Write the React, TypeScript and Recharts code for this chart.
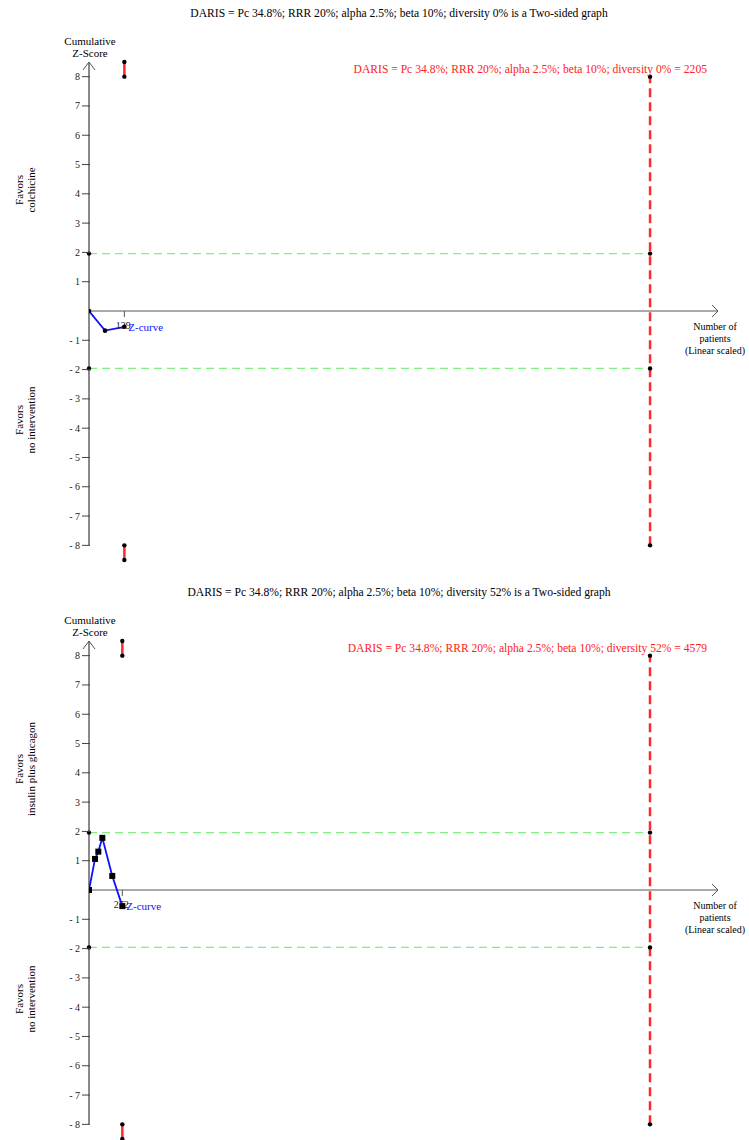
import React from "react";
import {
  ComposedChart,
  Line,
  XAxis,
  YAxis,
  ReferenceLine,
  ReferenceDot,
} from "recharts";

// ---------- data ----------
const topTitle =
  "DARIS = Pc 34.8%; RRR 20%; alpha 2.5%; beta 10%; diversity 0% is a Two-sided graph";
const topRisLabel =
  "DARIS = Pc 34.8%; RRR 20%; alpha 2.5%; beta 10%; diversity 0% = 2205";
const topRIS = 2205;
const topXMax = 2472;
const topPatients = [0, 63, 139];
const topZ = [0, -0.67, -0.54];
const topTick = 139;
const topFavorsUpper = ["Favors", "colchicine"];

const bottomTitle =
  "DARIS = Pc 34.8%; RRR 20%; alpha 2.5%; beta 10%; diversity 52% is a Two-sided graph";
const bottomRisLabel =
  "DARIS = Pc 34.8%; RRR 20%; alpha 2.5%; beta 10%; diversity 52% = 4579";
const bottomRIS = 4579;
const bottomXMax = 5134;
const bottomPatients = [0, 49, 76, 109, 190, 272];
const bottomZ = [0, 1.06, 1.31, 1.78, 0.48, -0.55];
const bottomTick = 272;
const bottomFavorsUpper = ["Favors", "insulin plus glucagon"];

const favorsLower = ["Favors", "no intervention"];
const yTicks = [-8, -7, -6, -5, -4, -3, -2, -1, 1, 2, 3, 4, 5, 6, 7, 8];
const boundaryZ = 1.96;
const axisTopZ = 8.5;
const axisBottomZ = -8;
const futilityZ = 8;
const extremeZ = 8.5;

const SERIF = "'Liberation Serif', 'Times New Roman', serif";
const W = 749;
const H = 579;
const Y_AXIS_W = 40;

type PanelProps = {
  title: string;
  risLabel: string;
  ris: number;
  xMax: number;
  patients: number[];
  zs: number[];
  tick: number;
  favorsUpper: string[];
  square: boolean;
  top: number;
};

const Dot = (props: any) => (
  <circle cx={props.cx} cy={props.cy} r={2.2} fill="#000" />
);

const YTick = (props: any) => {
  const { x, y, payload } = props;
  return (
    <g>
      <line x1={x + 1} y1={y} x2={x + 9} y2={y} stroke="#444" strokeWidth={1} />
      <text
        x={x - 1}
        y={y + 3.5}
        textAnchor="end"
        fontSize={10}
        fontFamily={SERIF}
        fill="#222"
      >
        {payload.value < 0 ? `- ${Math.abs(payload.value)}` : String(payload.value)}
      </text>
    </g>
  );
};

function Panel(p: PanelProps) {
  const data = p.patients.map((x, i) => ({ x, z: p.zs[i] }));
  const lineDot = p.square
    ? (d: any) => (
        <rect
          key={`sq-${d.index}`}
          x={d.cx - 3}
          y={d.cy - 3}
          width={6}
          height={6}
          fill="#000"
        />
      )
    : (d: any) => (
        <circle key={`c-${d.index}`} cx={d.cx} cy={d.cy} r={2.3} fill="#000" />
      );
  const last = data[data.length - 1];
  const labelStyle: React.CSSProperties = {
    position: "absolute",
    fontFamily: SERIF,
    fontSize: 10,
    color: "#000",
    textAlign: "center",
    lineHeight: "12px",
    whiteSpace: "nowrap",
  };
  return (
    <div style={{ position: "absolute", left: 0, top: p.top, width: W, height: H }}>
      <ComposedChart
        width={W}
        height={H}
        data={data}
        margin={{ top: 62, right: 31, bottom: 19, left: 89 - Y_AXIS_W }}
      >
        <XAxis
          type="number"
          dataKey="x"
          domain={[0, p.xMax]}
          hide
          height={0}
          allowDataOverflow
        />
        <YAxis
          type="number"
          domain={[-8.5, 8.5]}
          ticks={yTicks}
          interval={0}
          width={Y_AXIS_W}
          axisLine={false}
          tickLine={false}
          tickSize={8}
          tickMargin={0}
          tick={<YTick />}
          allowDataOverflow
        />
        {/* boundaries */}
        <ReferenceLine
          segment={[
            { x: 0, y: boundaryZ },
            { x: p.ris, y: boundaryZ },
          ]}
          stroke="#80f080"
          strokeWidth={1.2}
          strokeDasharray="8 5"
        />
        <ReferenceLine
          segment={[
            { x: 0, y: -boundaryZ },
            { x: p.ris, y: -boundaryZ },
          ]}
          stroke="#80f080"
          strokeWidth={1.2}
          strokeDasharray="8 5"
        />
        {/* RIS line */}
        <ReferenceLine
          segment={[
            { x: p.ris, y: -futilityZ },
            { x: p.ris, y: futilityZ },
          ]}
          stroke="#ff2a2a"
          strokeWidth={2.5}
          strokeDasharray="9 5"
        />
        {/* small red segments at current patients */}
        <ReferenceLine
          segment={[
            { x: p.tick, y: futilityZ },
            { x: p.tick, y: extremeZ },
          ]}
          stroke="#ff2a2a"
          strokeWidth={2.5}
        />
        <ReferenceLine
          segment={[
            { x: p.tick, y: -futilityZ },
            { x: p.tick, y: -extremeZ },
          ]}
          stroke="#ff2a2a"
          strokeWidth={2.5}
        />
        {/* axes */}
        <ReferenceLine
          segment={[
            { x: 0, y: 0 },
            { x: p.xMax, y: 0 },
          ]}
          stroke="#555"
          strokeWidth={1}
        />
        <ReferenceLine
          segment={[
            { x: 0, y: axisBottomZ },
            { x: 0, y: axisTopZ },
          ]}
          stroke="#8a8a8a"
          strokeWidth={2}
        />
        <ReferenceDot
          x={0}
          y={axisTopZ}
          r={0}
          shape={(d: any) => (
            <path
              d={`M${d.cx - 6},${d.cy + 8} L${d.cx},${d.cy} L${d.cx + 6},${d.cy + 8}`}
              stroke="#555"
              strokeWidth={1}
              fill="none"
            />
          )}
        />
        <ReferenceDot
          x={p.xMax}
          y={0}
          r={0}
          shape={(d: any) => (
            <path
              d={`M${d.cx - 6},${d.cy - 6} L${d.cx},${d.cy} L${d.cx - 6},${d.cy + 6}`}
              stroke="#555"
              strokeWidth={1}
              fill="none"
            />
          )}
        />
        {/* x tick at current patients */}
        <ReferenceDot
          x={p.tick}
          y={0}
          r={0}
          shape={(d: any) => (
            <g>
              <line x1={d.cx} y1={d.cy} x2={d.cx} y2={d.cy + 6} stroke="#555" />
              <text
                x={d.cx - 1}
                y={d.cy + 18}
                textAnchor="middle"
                fontSize={10}
                fontFamily={SERIF}
                fill="#222"
              >
                {String(p.tick)}
              </text>
            </g>
          )}
        />
        {/* black dots */}
        {[
          [0, boundaryZ],
          [0, -boundaryZ],
          [p.ris, boundaryZ],
          [p.ris, -boundaryZ],
          [p.ris, futilityZ],
          [p.ris, -futilityZ],
          [p.tick, futilityZ],
          [p.tick, extremeZ],
          [p.tick, -futilityZ],
          [p.tick, -extremeZ],
        ].map(([x, y], i) => (
          <ReferenceDot key={i} x={x} y={y} r={2} shape={Dot} />
        ))}
        <Line
          dataKey="z"
          stroke="#1010ff"
          strokeWidth={1.8}
          dot={lineDot}
          isAnimationActive={false}
        />
        <ReferenceDot
          x={last.x}
          y={last.z}
          r={0}
          shape={(d: any) => (
            <text
              x={d.cx + 4}
              y={d.cy + 4}
              fontSize={11}
              fontFamily={SERIF}
              fill="#1010ff"
            >
              Z-curve
            </text>
          )}
        />
      </ComposedChart>

      <div
        style={{
          ...labelStyle,
          left: 0,
          width: 798,
          top: 8,
          fontSize: 11.6,
        }}
      >
        {p.title}
      </div>
      <div
        style={{
          ...labelStyle,
          right: 42,
          top: 64,
          fontSize: 11.6,
          color: "#ff2020",
          textAlign: "right",
        }}
      >
        {p.risLabel}
      </div>
      <div style={{ ...labelStyle, left: 40, width: 100, top: 35, fontSize: 11 }}>
        Cumulative
        <br />
        Z-Score
      </div>
      <div style={{ ...labelStyle, left: 665, width: 100, top: 321 }}>
        Number of
        <br />
        patients
        <br />
        (Linear scaled)
      </div>
      {[
        { lines: p.favorsUpper, cy: 190 },
        { lines: favorsLower, cy: 420 },
      ].map((f, i) => (
        <div
          key={i}
          style={{
            ...labelStyle,
            left: 25 - 75,
            top: f.cy - 12,
            width: 150,
            height: 24,
            fontSize: 11,
            transform: "rotate(-90deg)",
          }}
        >
          {f.lines[0]}
          <br />
          {f.lines[1]}
        </div>
      ))}
    </div>
  );
}

export default function App() {
  return (
    <div
      style={{
        position: "absolute",
        left: 0,
        top: 0,
        width: W,
        height: 1140,
        overflow: "hidden",
        background: "#fff",
      }}
    >
      <Panel
        title={topTitle}
        risLabel={topRisLabel}
        ris={topRIS}
        xMax={topXMax}
        patients={topPatients}
        zs={topZ}
        tick={topTick}
        favorsUpper={topFavorsUpper}
        square={false}
        top={0}
      />
      <Panel
        title={bottomTitle}
        risLabel={bottomRisLabel}
        ris={bottomRIS}
        xMax={bottomXMax}
        patients={bottomPatients}
        zs={bottomZ}
        tick={bottomTick}
        favorsUpper={bottomFavorsUpper}
        square={true}
        top={579}
      />
    </div>
  );
}
